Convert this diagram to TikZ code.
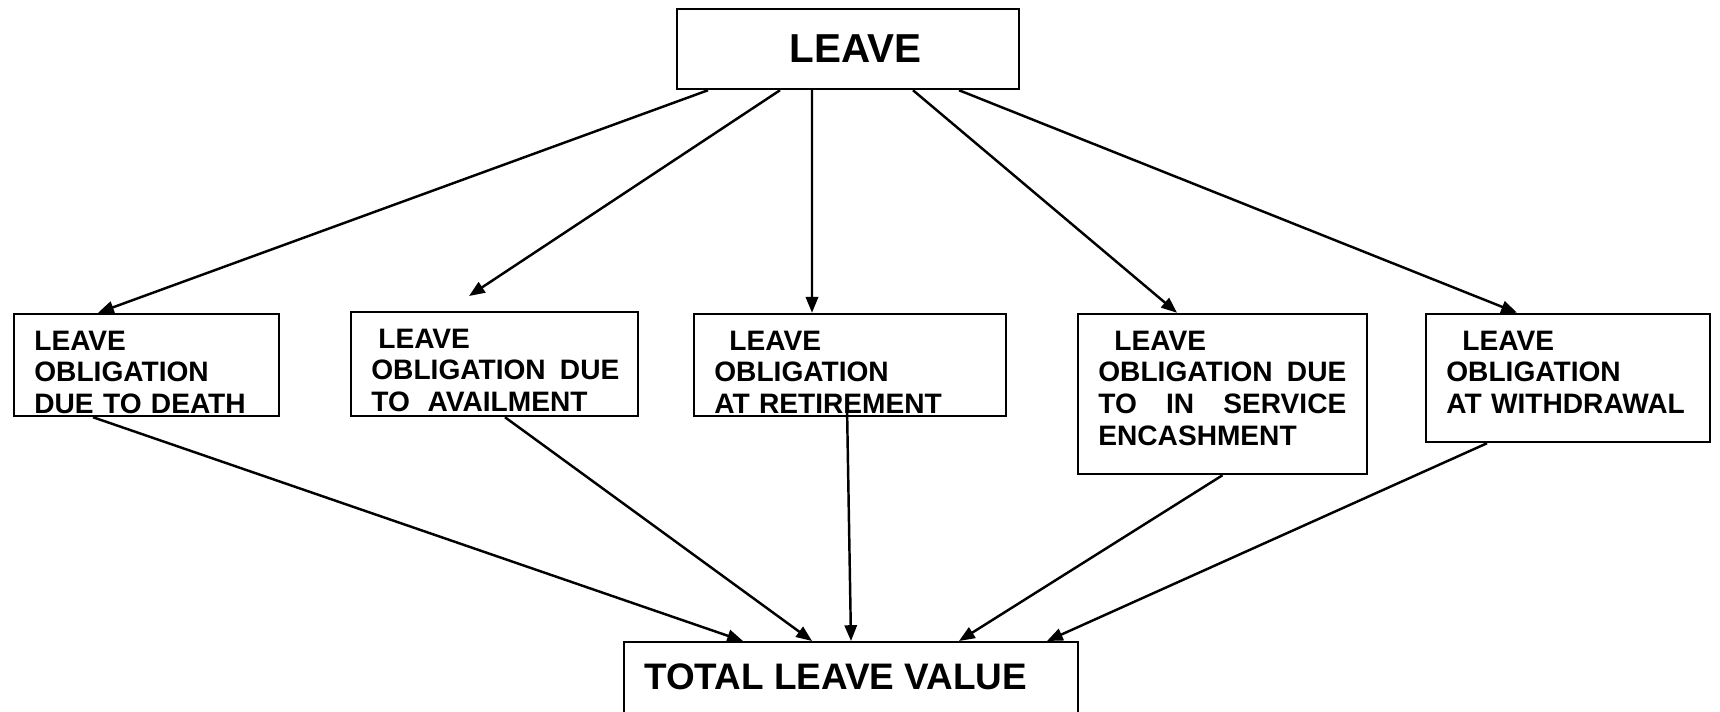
\documentclass[tikz,border=0pt]{standalone}
\usepackage{fontspec}
\setmainfont{Liberation Sans}
\usetikzlibrary{arrows.meta}

\begin{document}
\begin{tikzpicture}[x=0.02cm,y=-0.02cm,
    box/.style={draw,line width=1.4pt,inner sep=0pt},
    boxtext/.style={anchor=base west,inner sep=0pt,align=left,font=\bfseries\fontsize{16}{18.1}\selectfont},
    bigtext/.style={font=\bfseries\fontsize{23}{26}\selectfont},
    arr/.style={line width=1.4pt,-{Triangle[length=9pt,width=7pt]}}]
    \useasboundingbox (0,0) rectangle (1720,711);

    \node[box,bigtext,minimum width=6.84cm,minimum height=1.6cm] (leave) at (848,49) {\hspace{0.3cm}LEAVE};

    \node[box,minimum width=5.3cm,minimum height=2.04cm] (death) at (146.5,365) {};
    \node[box,minimum width=5.74cm,minimum height=2.08cm] (avail) at (494.5,364) {};
    \node[box,minimum width=6.24cm,minimum height=2.04cm] (retire) at (850,365) {};
    \node[box,minimum width=5.78cm,minimum height=3.2cm] (encash) at (1222.5,394) {};
    \node[box,minimum width=5.68cm,minimum height=2.56cm] (withdraw) at (1568,378) {};
    \node[box,anchor=north,minimum width=9.08cm,minimum height=2.4cm] (total) at (851,641) {};

    \node[boxtext,text width=4.6cm] (deathtext) at (34,350) {LEAVE\\OBLIGATION\\DUE TO DEATH};
    \node[boxtext,text width=4.96cm] (availtext) at (371,348) {\hspace*{0.14cm}LEAVE\\OBLIGATION\hfill DUE\\TO\hspace{0.3em} AVAILMENT};
    \node[boxtext,text width=5cm] (retiretext) at (714,350) {\hspace*{0.3cm}LEAVE\\OBLIGATION\\AT RETIREMENT};
    \node[boxtext,text width=4.96cm] (encashtext) at (1098,350) {\hspace*{0.32cm}LEAVE\\OBLIGATION\hfill DUE\\TO\hfill IN\hfill SERVICE\\ENCASHMENT};
    \node[boxtext,text width=5cm] (withdrawtext) at (1446,350) {\hspace*{0.32cm}LEAVE\\OBLIGATION\\AT WITHDRAWAL};
    \node[boxtext,font=\bfseries\fontsize{21}{24}\selectfont] (totaltext) at (644,689) {TOTAL LEAVE VALUE};

    \coordinate (availtop) at (469,296);
    \coordinate (retirefoot) at (847,406);

    \draw[arr] ([xshift=-2.8cm]leave.south) -- ([xshift=-0.97cm]death.north);
    \draw[arr] ([xshift=-1.36cm]leave.south) -- (availtop);
    \draw[arr] ([xshift=-0.72cm]leave.south) -- ([xshift=-0.76cm]retire.north);
    \draw[arr] ([xshift=1.3cm]leave.south) -- ([xshift=-0.91cm]encash.north);
    \draw[arr] ([xshift=2.22cm]leave.south) -- ([xshift=-1.02cm]withdraw.north);

    \draw[arr] ([xshift=-1.07cm]death.south) -- ([xshift=-2.16cm]total.north);
    \draw[arr] ([xshift=0.21cm]avail.south) -- ([xshift=-0.78cm]total.north);
    \draw[arr] (retirefoot) -- (total.north);
    \draw[arr] (encash.south) -- ([xshift=2.16cm]total.north);
    \draw[arr] ([xshift=-1.62cm]withdraw.south) -- ([xshift=3.92cm]total.north);
\end{tikzpicture}
\end{document}
